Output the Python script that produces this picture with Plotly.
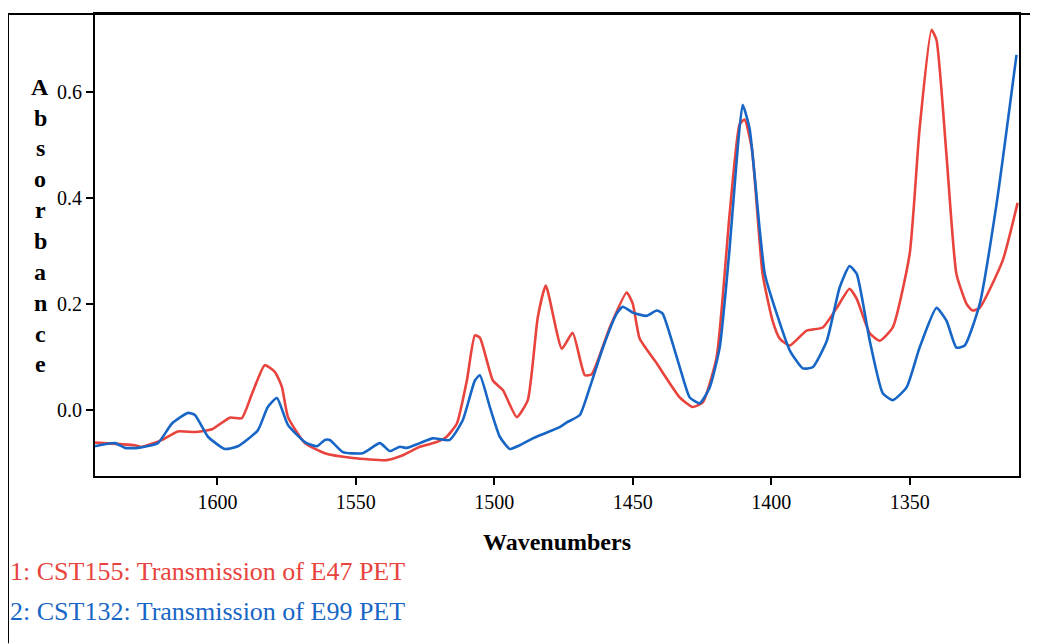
import plotly.graph_objects as go

# spectrum 1: CST155 (red)
wn_red = [1644.2, 1629.8, 1627.3, 1620.0, 1614.3, 1608.1, 1602.0, 1595.5, 1591.2, 1587.5,
          1582.9, 1579.2, 1576.7, 1574.5, 1568.4, 1561.2, 1551.1, 1538.8, 1533.0, 1526.9,
          1520.8, 1517.2, 1513.5, 1509.9, 1507.0, 1505.2, 1500.5, 1496.9, 1491.9, 1487.9,
          1484.3, 1481.4, 1475.6, 1471.7, 1467.3, 1464.8, 1458.3, 1452.2, 1450.0, 1447.5,
          1441.3, 1433.0, 1428.4, 1424.7, 1419.7, 1415.0, 1411.4, 1409.6, 1407.0, 1403.1,
          1399.5, 1396.9, 1393.3, 1387.2, 1381.4, 1376.3, 1371.7, 1369.1, 1364.4, 1360.8,
          1356.1, 1350.0, 1346.4, 1342.1, 1340.3, 1336.7, 1333.1, 1329.4, 1327.3, 1324.7,
          1316.4, 1311.0]
abs_red = [-0.061, -0.066, -0.069, -0.056, -0.040, -0.041, -0.036, -0.014, -0.015, 0.031,
           0.085, 0.072, 0.044, -0.013, -0.062, -0.081, -0.090, -0.094, -0.085, -0.069,
           -0.060, -0.050, -0.025, 0.056, 0.141, 0.137, 0.056, 0.038, -0.013, 0.019,
           0.175, 0.235, 0.116, 0.146, 0.066, 0.068, 0.156, 0.222, 0.201, 0.135,
           0.088, 0.024, 0.006, 0.015, 0.100, 0.370, 0.539, 0.548, 0.494, 0.257,
           0.169, 0.135, 0.122, 0.150, 0.156, 0.193, 0.229, 0.210, 0.145, 0.131,
           0.156, 0.294, 0.531, 0.717, 0.698, 0.482, 0.257, 0.200, 0.188, 0.193,
           0.282, 0.391]

# spectrum 2: CST132 (blue)
wn_blue = [1644.2, 1637.0, 1633.4, 1628.7, 1621.5, 1616.4, 1610.6, 1608.1, 1603.4, 1597.3,
           1592.6, 1585.4, 1581.8, 1578.5, 1574.5, 1568.4, 1564.1, 1561.2, 1559.4, 1554.7,
           1547.5, 1541.3, 1537.7, 1534.1, 1531.6, 1526.9, 1522.2, 1516.1, 1511.4, 1507.0,
           1505.2, 1501.6, 1498.0, 1494.4, 1490.8, 1486.1, 1476.4, 1473.8, 1469.1, 1465.5,
           1460.9, 1455.8, 1453.6, 1450.0, 1445.0, 1441.3, 1439.2, 1435.6, 1433.0, 1429.4,
           1425.8, 1422.2, 1418.6, 1415.0, 1412.1, 1410.3, 1407.8, 1404.1, 1402.3, 1398.0,
           1393.3, 1388.6, 1385.0, 1379.9, 1375.3, 1371.7, 1369.1, 1364.4, 1359.7, 1356.1,
           1351.1, 1346.4, 1340.3, 1336.7, 1333.1, 1330.1, 1324.7, 1318.6, 1311.4]
abs_blue = [-0.068, -0.062, -0.071, -0.071, -0.062, -0.025, -0.005, -0.009, -0.050, -0.073,
            -0.068, -0.038, 0.006, 0.023, -0.028, -0.060, -0.068, -0.056, -0.056, -0.079,
            -0.081, -0.062, -0.077, -0.069, -0.071, -0.062, -0.053, -0.056, -0.019, 0.056,
            0.066, 0.006, -0.050, -0.073, -0.066, -0.053, -0.032, -0.023, -0.009, 0.043,
            0.116, 0.182, 0.195, 0.184, 0.178, 0.188, 0.182, 0.126, 0.081, 0.024,
            0.013, 0.043, 0.118, 0.306, 0.494, 0.576, 0.531, 0.338, 0.257, 0.182,
            0.113, 0.079, 0.081, 0.131, 0.231, 0.272, 0.257, 0.131, 0.032, 0.019,
            0.043, 0.118, 0.193, 0.169, 0.118, 0.122, 0.200, 0.389, 0.670]

x_ticks = [1600, 1550, 1500, 1450, 1400, 1350]
y_ticks = [0.0, 0.2, 0.4, 0.6]
labels = ['1: CST155: Transmission of E47 PET', '2: CST132: Transmission of E99 PET']
colors = ['#e8433c', '#1766c6']
y_title = 'Absorbance'
x_title = 'Wavenumbers'

# page body has an 8px margin, so the figure is a bit smaller than the window
W, H = 1030, 636
L, R, T, B = 87, 19, 4, 168
pw, ph = W - L - R, H - T - B

def px(x):  # figure pixel -> paper x
    return (x - L) / pw

def py(y):  # figure pixel -> paper y
    return (H - B - y) / ph

fig = go.Figure()
fig.add_trace(go.Scatter(x=wn_red, y=abs_red, mode='lines', name=labels[0],
                         line=dict(color=colors[0], width=2.6, shape='spline', smoothing=0.5)))
fig.add_trace(go.Scatter(x=wn_blue, y=abs_blue, mode='lines', name=labels[1],
                         line=dict(color=colors[1], width=2.6, shape='spline', smoothing=0.5)))

serif = 'Liberation Serif'
fig.update_layout(
    width=W, height=H, margin=dict(l=L, r=R, t=T, b=B),
    paper_bgcolor='white', plot_bgcolor='white', showlegend=False,
    font=dict(family=serif, color='black', size=20),
)
fig.update_xaxes(range=[1644.2, 1310.5], tickvals=x_ticks, ticks='outside', ticklen=7,
                 tickwidth=2, tickcolor='black', showgrid=False, zeroline=False,
                 showline=True, linewidth=2, linecolor='black', mirror=True,
                 tickfont=dict(size=20),
                 title=dict(text='<b>' + x_title + '</b>', font=dict(size=24), standoff=21))
fig.update_yaxes(range=[-0.124, 0.747], tickvals=y_ticks, tickformat='.1f', ticks='outside',
                 ticklen=7, tickwidth=2, tickcolor='black', showgrid=False, zeroline=False,
                 showline=True, linewidth=2, linecolor='black', mirror=True,
                 tickfont=dict(size=20))

# vertical stacked y-axis title
for i, ch in enumerate(y_title):
    fig.add_annotation(text='<b>' + ch + '</b>', xref='paper', yref='paper',
                       x=px(32), y=py(77 + i * 31), showarrow=False,
                       font=dict(size=24, family=serif), xanchor='center', yanchor='middle')

# legend lines under the plot
for i, (lab, c) in enumerate(zip(labels, colors)):
    fig.add_annotation(text=lab, xref='paper', yref='paper', x=px(0), y=py(564 + i * 40),
                       showarrow=False, xanchor='left', yanchor='middle',
                       font=dict(size=26, family=serif, color=c))

# outer frame
fig.add_shape(type='line', xref='paper', yref='paper', x0=px(0), x1=px(W),
              y0=py(4), y1=py(4), line=dict(color='black', width=2))
fig.add_shape(type='line', xref='paper', yref='paper', x0=px(0), x1=px(0),
              y0=py(4), y1=py(H), line=dict(color='black', width=2))

fig.write_html('out.html')
